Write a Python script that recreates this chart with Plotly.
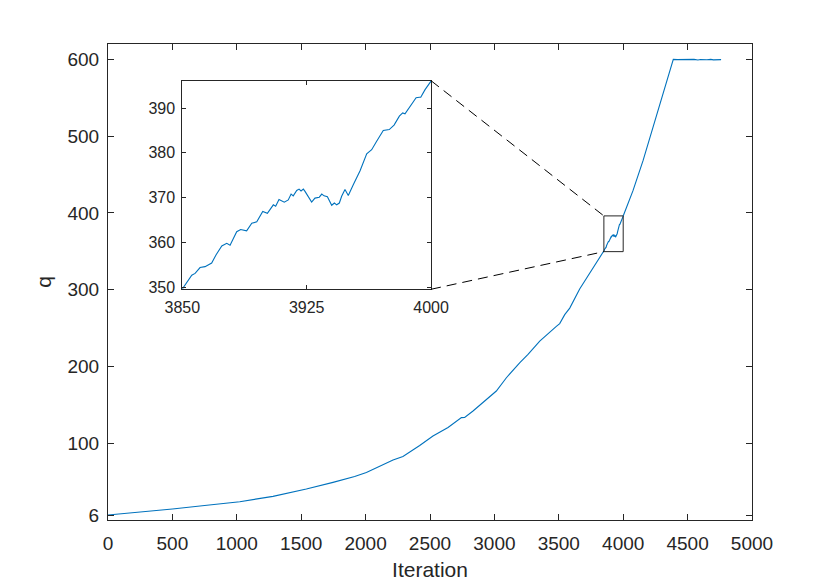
import plotly.graph_objects as go

# main curve (iteration, q)
iter_early = [0, 250, 500, 750, 1023, 1281, 1540, 1747, 1915, 2006, 2110, 2213,
              2290, 2420, 2523, 2640, 2744, 2769, 2834, 2950, 3015, 3093, 3196,
              3261, 3352, 3481, 3507, 3546, 3585, 3662, 3740, 3800, 3831]
q_early = [6.5, 10, 14.3, 18.8, 23.8, 30.8, 40.3, 49, 56.7, 62, 70.5, 78.3,
           82.7, 97, 109.5, 120.4, 133.4, 133.6, 142, 159.3, 168, 185.3, 204.8,
           215.6, 232.9, 252.3, 255.8, 267.5, 276, 301, 321.7, 336, 345]

# zoomed window 3850..4000
iter_zoom = [3850, 3853, 3855.7, 3857.7, 3860.7, 3863.7, 3866.3, 3867.7, 3870.3,
             3873.8, 3876.8, 3878.8, 3882.8, 3885.2, 3888.8, 3891.9, 3894.9,
             3898.5, 3901.3, 3904.9, 3906.3, 3908.3, 3911.5, 3913.9, 3915.6,
             3916.9, 3919, 3920.4, 3921.6, 3923, 3924, 3926, 3928, 3930, 3932.6,
             3934.1, 3935.5, 3937.5, 3940.1, 3941.7, 3943.1, 3944.7, 3946.1,
             3948.1, 3950.1, 3953.1, 3957.2, 3961.2, 3964.2, 3967.2, 3971.2,
             3974.8, 3977.7, 3980.9, 3982.9, 3984.3, 3985.9, 3988.4, 3991,
             3993, 3993.8, 3996.4, 3999, 4000]
q_zoom = [349.6, 351.3, 352.7, 353.1, 354.4, 354.6, 355.1, 355.4, 357.2,
          359.2, 359.8, 359.4, 362.4, 362.9, 362.6, 364.3, 364.6,
          366.9, 366.5, 368.4, 368.1, 369.6, 369.0, 369.5, 370.8,
          370.4, 371.6, 371.9, 371.5, 371.9, 371.4, 370.1, 369.0, 369.9, 370.1,
          370.8, 370.4, 370.2, 368.3, 368.8, 368.4, 368.8, 370.3,
          371.8, 370.5, 372.9, 376.0, 379.8, 380.7, 382.6, 385.0,
          385.2, 386.2, 388.2, 388.9, 388.7, 389.5, 390.9, 392.3,
          392.4, 392.4, 394.1, 395.4, 396.0]

iter_late = [4076, 4154, 4231, 4309, 4389, 4420, 4450, 4500, 4550, 4580,
             4600, 4650, 4680, 4700, 4730, 4760]
q_late = [429, 468, 511, 554.5, 600, 599.6, 599.9, 599.5, 600, 599.2,
          599.8, 599.4, 600, 599.3, 599.8, 599.6]

x_ticks = list(range(0, 5001, 500))
y_ticks = [6, 100, 200, 300, 400, 500, 600]
zoom_x_ticks = [3850, 3925, 4000]
zoom_y_ticks = [350, 360, 370, 380, 390]

x_range = [0, 5000]
y_range = [0, 620]
zoom_x_range = [3850, 4000]
zoom_y_range = [349.55, 396.1]

inset_dom_x = [0.1154, 0.5016]
inset_dom_y = [0.4847, 0.9229]

blue = '#0072BD'
ink = '#262626'
font = 'Liberation Sans, Arial, sans-serif'

fig = go.Figure()

fig.add_trace(go.Scatter(
    x=iter_early + iter_zoom + iter_late,
    y=q_early + q_zoom + q_late,
    mode='lines', line=dict(color=blue, width=1.1),
    showlegend=False, xaxis='x', yaxis='y'
))

fig.add_trace(go.Scatter(
    x=iter_zoom, y=q_zoom,
    mode='lines', line=dict(color=blue, width=1.1),
    showlegend=False, xaxis='x2', yaxis='y2'
))

axis_common = dict(showgrid=False, zeroline=False, showline=True, linecolor=ink,
                   linewidth=1, mirror='ticks', ticks='inside', tickcolor=ink)

# page body adds an 8px offset, margins are trimmed to compensate
fig.update_layout(
    width=830, height=585,
    margin=dict(l=100, r=86, t=36, b=73),
    paper_bgcolor='white', plot_bgcolor='white',
    font=dict(family=font, color=ink),
    xaxis=dict(range=x_range, tickvals=x_ticks, ticklen=6,
               tickfont=dict(size=19), ticklabelstandoff=6,
               title=dict(text='Iteration', font=dict(size=21), standoff=9),
               **axis_common),
    yaxis=dict(range=y_range, tickvals=y_ticks, ticklen=6,
               tickfont=dict(size=19), ticklabelstandoff=4,
               title=dict(text='q', font=dict(size=21), standoff=10),
               **axis_common),
    xaxis2=dict(domain=inset_dom_x, anchor='y2', range=zoom_x_range,
                tickvals=zoom_x_ticks, ticklen=4, tickfont=dict(size=16),
                ticklabelstandoff=4, **axis_common),
    yaxis2=dict(domain=inset_dom_y, anchor='x2', range=zoom_y_range,
                tickvals=zoom_y_ticks, ticklen=4, tickfont=dict(size=16),
                ticklabelstandoff=3, **axis_common),
)

# box around the zoomed region on the main axes
fig.add_shape(type='rect', xref='x', yref='y',
              x0=zoom_x_range[0], x1=zoom_x_range[1],
              y0=zoom_y_range[0], y1=zoom_y_range[1],
              line=dict(color=ink, width=1))

# dashed connectors: inset corners (converted to main data units) -> box corners
def to_main_x(p):
    return x_range[0] + p * (x_range[1] - x_range[0])

def to_main_y(p):
    return y_range[0] + p * (y_range[1] - y_range[0])

for inset_y, box_y in [(inset_dom_y[1], zoom_y_range[1]), (inset_dom_y[0], zoom_y_range[0])]:
    fig.add_shape(type='line', xref='x', yref='y',
                  x0=to_main_x(inset_dom_x[1]), y0=to_main_y(inset_y),
                  x1=zoom_x_range[0], y1=box_y,
                  line=dict(color='black', width=1, dash='10px,6px'))

fig.write_html("out.html")
